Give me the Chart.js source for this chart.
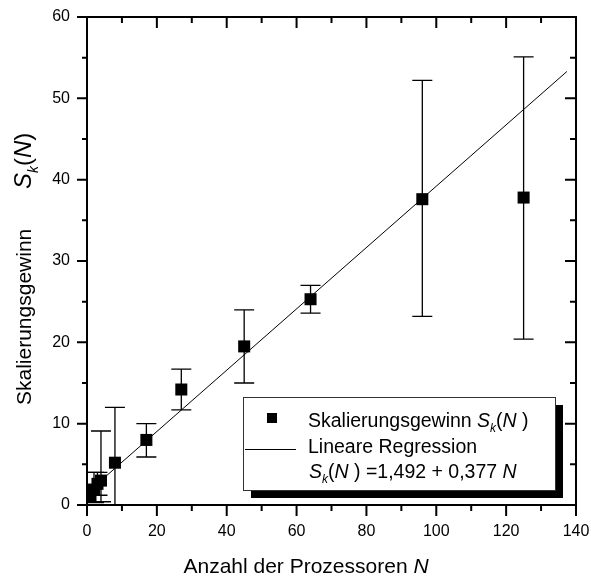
<!DOCTYPE html>
<html>
<head>
<meta charset="utf-8">
<script src="https://cdn.jsdelivr.net/npm/chart.js@4.4.1/dist/chart.umd.min.js"></script>
<style>
  html, body { margin: 0; padding: 0; background: #fff; }
  #wrap { width: 591px; height: 583px; }
</style>
</head>
<body>
<div id="wrap"><canvas id="myChart" width="591" height="583"></canvas></div>
<script>
const processors = [1, 2, 3, 4, 8, 17, 27, 45, 64, 96, 125];
const speedup    = [1.0, 1.9, 2.6, 3.0, 5.2, 8.0, 14.2, 19.5, 25.3, 37.6, 37.8];
const errTop     = [1.0, 4.0, 4.0, 9.1, 12.0, 10.0, 16.7, 24.0, 27.0, 52.2, 55.1];
const errBottom  = [1.0, 0.3, 1.2, 0.4, 0.0, 5.9, 11.7, 15.0, 23.6, 23.2, 20.4];

// Regressionsgerade S = 1,492 + 0,377 N (Endpunkte)
const regressionN = [1, 137.4];
const regressionS = [1.87, 53.3];

// Achsenteilung
const xMajor = [0, 20, 40, 60, 80, 100, 120, 140];
const xMinor = [10, 30, 50, 70, 90, 110, 130];
const yMajor = [0, 10, 20, 30, 40, 50, 60];
const yMinor = [5, 15, 25, 35, 45, 55];

const FONT = "'Liberation Sans', Arial, sans-serif";

function drawRuns(ctx, runs, x, y, size) {
    let cx = x;
    for (const r of runs) {
        const fs = r.sub ? Math.round(size * 0.6) : size;
        ctx.font = (r.italic ? "italic " : "") + fs + "px " + FONT;
        ctx.fillText(r.text, cx, y + (r.sub ? size * 0.28 : 0));
        cx += ctx.measureText(r.text).width;
    }
    return cx - x;
}

function runsWidth(ctx, runs, size) {
    let w = 0;
    for (const r of runs) {
        const fs = r.sub ? Math.round(size * 0.6) : size;
        ctx.font = (r.italic ? "italic " : "") + fs + "px " + FONT;
        w += ctx.measureText(r.text).width;
    }
    return w;
}

const skRuns = [
    { text: "S", italic: true },
    { text: "k", italic: true, sub: true },
    { text: "(" },
    { text: "N", italic: true },
    { text: " )" }
];

// Fehlerbalken unter den Punkten
const errorBarPlugin = {
    id: "errorBars",
    beforeDatasetsDraw(chart) {
        const ctx = chart.ctx;
        const xs = chart.scales.x;
        const ys = chart.scales.y;
        const area = chart.chartArea;
        ctx.save();
        ctx.beginPath();
        ctx.rect(area.left, area.top, area.right - area.left, area.bottom - area.top);
        ctx.clip();
        ctx.strokeStyle = "#000";
        ctx.lineWidth = 1.3;
        processors.forEach((n, i) => {
            const px = xs.getPixelForValue(n);
            const top = ys.getPixelForValue(errTop[i]);
            const bot = ys.getPixelForValue(errBottom[i]);
            if (Math.abs(bot - top) < 1) return;
            ctx.beginPath();
            ctx.moveTo(px, top);
            ctx.lineTo(px, bot);
            ctx.moveTo(px - 10, top);
            ctx.lineTo(px + 10, top);
            ctx.moveTo(px - 10, bot);
            ctx.lineTo(px + 10, bot);
            ctx.stroke();
        });
        ctx.restore();
    }
};

// Rahmen, Teilstriche, Legende und Achsentitel
const framePlugin = {
    id: "frame",
    afterDatasetsDraw(chart) {
        const ctx = chart.ctx;
        const xs = chart.scales.x;
        const ys = chart.scales.y;
        const a = chart.chartArea;
        ctx.save();
        ctx.strokeStyle = "#000";
        ctx.lineWidth = 2;
        ctx.strokeRect(a.left, a.top, a.right - a.left, a.bottom - a.top);

        ctx.beginPath();
        xs.ticks.forEach(t => {
            const px = xs.getPixelForValue(t.value);
            const len = xMajor.includes(t.value) ? 11 : 6;
            ctx.moveTo(px, a.bottom);
            ctx.lineTo(px, a.bottom + len);
            ctx.moveTo(px, a.top);
            ctx.lineTo(px, a.top + len);
        });
        ys.ticks.forEach(t => {
            const py = ys.getPixelForValue(t.value);
            const len = yMajor.includes(t.value) ? 10 : 5;
            ctx.moveTo(a.left, py);
            ctx.lineTo(a.left - len, py);
            ctx.moveTo(a.right, py);
            ctx.lineTo(a.right - len - 1, py);
        });
        ctx.stroke();

        // Legende mit Schatten
        const box = { x: 243, y: 397, w: 312, h: 93 };
        ctx.fillStyle = "#000";
        ctx.fillRect(box.x + 8, box.y + 8, box.w, box.h);
        ctx.fillStyle = "#fff";
        ctx.fillRect(box.x, box.y, box.w, box.h);
        ctx.lineWidth = 1;
        ctx.strokeStyle = "#333";
        ctx.strokeRect(box.x + 0.5, box.y + 0.5, box.w, box.h);

        ctx.fillStyle = "#000";
        ctx.fillRect(267, 413, 10, 10);
        ctx.beginPath();
        ctx.lineWidth = 1;
        ctx.strokeStyle = "#000";
        ctx.moveTo(245, 449.5);
        ctx.lineTo(296, 449.5);
        ctx.stroke();

        const ds = chart.data.datasets;
        ctx.textBaseline = "alphabetic";
        ctx.textAlign = "left";
        const lf = 19.5;
        drawRuns(ctx, [{ text: ds[0].label + " " }].concat(skRuns), 308, 427, lf);
        drawRuns(ctx, [{ text: ds[1].label }], 308, 453, lf);
        drawRuns(ctx, skRuns.concat([
            { text: " =1,492 + 0,377 " },
            { text: "N", italic: true }
        ]), 309, 478, lf);

        // x-Achsentitel
        const xt = [{ text: "Anzahl der Prozessoren " }, { text: "N", italic: true }];
        const tf = 21;
        const xw = runsWidth(ctx, xt, tf);
        drawRuns(ctx, xt, 306 - xw / 2, 573, tf);

        // y-Achsentitel (gedreht)
        ctx.translate(31, 405);
        ctx.rotate(-Math.PI / 2);
        drawRuns(ctx, [{ text: "Skalierungsgewinn" }], 0, 0, tf);
        drawRuns(ctx, [
            { text: "S", italic: true },
            { text: "k", italic: true, sub: true },
            { text: "(" },
            { text: "N", italic: true },
            { text: ")" }
        ], 216, 0, 24);
        ctx.restore();
    }
};

const allX = xMajor.concat(xMinor).sort((p, q) => p - q);
const allY = yMajor.concat(yMinor).sort((p, q) => p - q);

new Chart(document.getElementById("myChart"), {
    type: "scatter",
    data: {
        datasets: [
            {
                label: "Skalierungsgewinn",
                data: processors.map((n, i) => ({ x: n, y: speedup[i] })),
                pointStyle: "rect",
                pointRadius: 8.5,
                pointHoverRadius: 8.5,
                backgroundColor: "#000",
                borderColor: "#000",
                borderWidth: 0
            },
            {
                label: "Lineare Regression",
                data: regressionN.map((n, i) => ({ x: n, y: regressionS[i] })),
                showLine: true,
                borderColor: "#000",
                borderWidth: 1,
                pointRadius: 0,
                fill: false
            }
        ]
    },
    options: {
        responsive: false,
        animation: false,
        devicePixelRatio: 1,
        layout: { padding: { top: 17, right: 15, left: 0, bottom: 0 } },
        plugins: {
            legend: { display: false },
            tooltip: { enabled: false }
        },
        scales: {
            x: {
                type: "linear",
                min: 0,
                max: 140,
                grid: { display: false, drawTicks: false },
                border: { display: false },
                afterBuildTicks: s => { s.ticks = allX.map(v => ({ value: v })); },
                afterFit: s => {
                    s.height = 78;
                    s.paddingLeft = 0;
                    s.paddingRight = 0;
                },
                ticks: {
                    autoSkip: false,
                    maxRotation: 0,
                    padding: 17,
                    color: "#000",
                    font: { family: FONT, size: 16 },
                    callback: v => xMajor.includes(v) ? String(v) : ""
                }
            },
            y: {
                type: "linear",
                min: 0,
                max: 60,
                grid: { display: false, drawTicks: false },
                border: { display: false },
                afterBuildTicks: s => { s.ticks = allY.map(v => ({ value: v })); },
                afterFit: s => {
                    s.width = 87;
                    s.paddingTop = 0;
                    s.paddingBottom = 0;
                },
                ticks: {
                    autoSkip: false,
                    padding: 17,
                    color: "#000",
                    font: { family: FONT, size: 16 },
                    callback: v => yMajor.includes(v) ? String(v) : ""
                }
            }
        }
    },
    plugins: [errorBarPlugin, framePlugin]
});
</script>
</body>
</html>
